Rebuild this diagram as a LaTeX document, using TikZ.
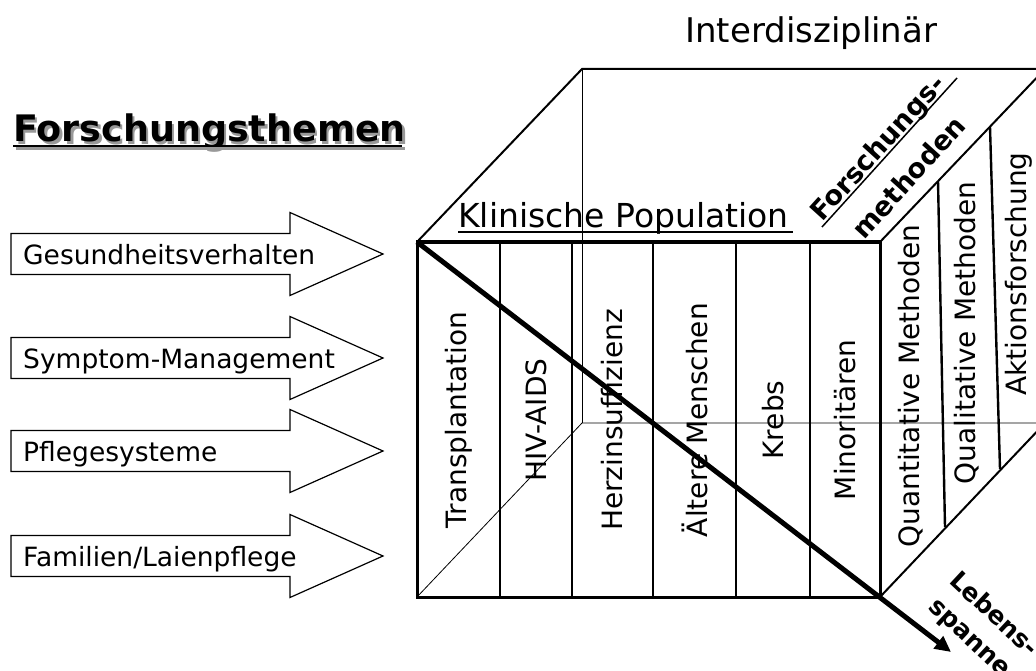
\documentclass[tikz,border=0pt]{standalone}
\usepackage{fontspec}
\setmainfont{DejaVu Sans}
\usetikzlibrary{arrows.meta}
\newcommand{\fsz}[1]{\fontsize{#1}{#1}\selectfont}

\begin{document}
\begin{tikzpicture}[x=1pt,y=-1pt,
    frontedge/.style={line width=3pt},
    celldiv/.style={line width=1.3pt},
    hiddenedge/.style={line width=0.8pt},
    depthedge/.style={line width=2pt},
    methdiv/.style={line width=2.4pt},
    topicarrow/.style={line width=1.2pt,line join=miter},
    topiclabel/.style={anchor=base west,inner sep=0pt,font=\fsz{26.5}},
    poplabel/.style={rotate=90,inner sep=0pt,font=\fsz{28}},
    boldlabel/.style={anchor=base west,inner sep=0pt,font=\bfseries\fsz{27}},
  ]
  \useasboundingbox (0,0) rectangle (1036,671);

  % headings
  \node[anchor=base west,inner sep=0pt,font=\bfseries\fsz{36.5},text=black!40] (titleshadow) at (15.5,144.5) {Forschungsthemen};
  \node[anchor=base west,inner sep=0pt,font=\bfseries\fsz{36.5}] (title) at (13,142) {Forschungsthemen};
  \draw[black!40,line width=2.5pt] (15.5,148.5) -- (404.5,148.5);
  \draw[line width=2.5pt] (13,146) -- (402,146);
  \node[anchor=base west,inner sep=0pt,font=\fsz{34}] (interdis) at (685,43) {Interdisziplinär};

  % topic arrows
  \foreach \y/\nm/\txt in {254/gesund/Gesundheitsverhalten,358/symptom/Symptom-Management,
      451/pflegesys/Pflegesysteme,556/familie/{Familien/Laienpflege}}{
    \draw[topicarrow] (11,\y-20.5) -- (290,\y-20.5) -- (290,\y-41.5) -- (383,\y)
      -- (290,\y+41.5) -- (290,\y+20.5) -- (11,\y+20.5) -- cycle;
    \node[topiclabel] (\nm) at (23,\y+10) {\txt};
  }

  % cube corners
  \coordinate (ftl) at (417,242);
  \coordinate (ftr) at (880,242);
  \coordinate (fbl) at (417,597);
  \coordinate (fbr) at (880,597);
  \coordinate (btl) at (582,69);
  \coordinate (btr) at (1045,69);
  \coordinate (bbl) at (582,423);
  \coordinate (bbr) at (1045,423);

  % hidden edges
  \draw[hiddenedge] (fbl) -- (bbl) -- (bbr);
  \draw[hiddenedge] (btl) -- (bbl);
  % top and right face
  \draw[depthedge] (ftl) -- (btl) -- (btr) -- (ftr);
  \draw[depthedge] (fbr) -- (bbr) -- (btr);

  % population cells
  \foreach \x in {500,572,653,736,810}
    \draw[celldiv] (\x,242) -- (\x,597);
  \foreach \x/\nm/\txt in {458.5/transpl/Transplantation,536/hiv/HIV-AIDS,
      612.5/herz/Herzinsuffizienz,694.5/aeltere/Ältere Menschen,
      773/krebs/Krebs,845/minor/Minoritären}
    \node[poplabel] (\nm) at (\x,420) {\txt};

  % method cells
  \draw[methdiv] (938,181) -- (945,527);
  \draw[methdiv] (990,127) -- (1000,469);
  \node[poplabel] (quanti) at (911,386) {Quantitative Methoden};
  \node[poplabel] (quali) at (967,333) {Qualitative Methoden};
  \node[poplabel] (aktion) at (1019,274) {Aktionsforschung};

  \draw[frontedge] (ftl) rectangle (fbr);

  % axis labels
  \node[anchor=base west,inner sep=0pt,font=\fsz{33}] (klinpop) at (458,228) {Klinische Population};
  \draw[line width=1.5pt] (458,232) -- (793,232);
  \node[boldlabel,rotate=47.8] (forsch) at (822,223) {Forschungs-};
  \draw[line width=1.5pt] (822,227) -- (957,78);
  \node[boldlabel,rotate=47.8] (methoden) at (864,241) {methoden};

  % lifespan axis
  \coordinate (lifetip) at (951,652);
  \draw[line width=5pt,-{Triangle[length=16pt,width=15pt]}] (ftl) -- (lifetip);
  \node[boldlabel,font=\bfseries\fsz{25},rotate=-43] (lebens) at (948,582) {Lebens-};
  \node[boldlabel,font=\bfseries\fsz{25},rotate=-43] (spanne) at (927,608) {spanne};
\end{tikzpicture}
\end{document}
